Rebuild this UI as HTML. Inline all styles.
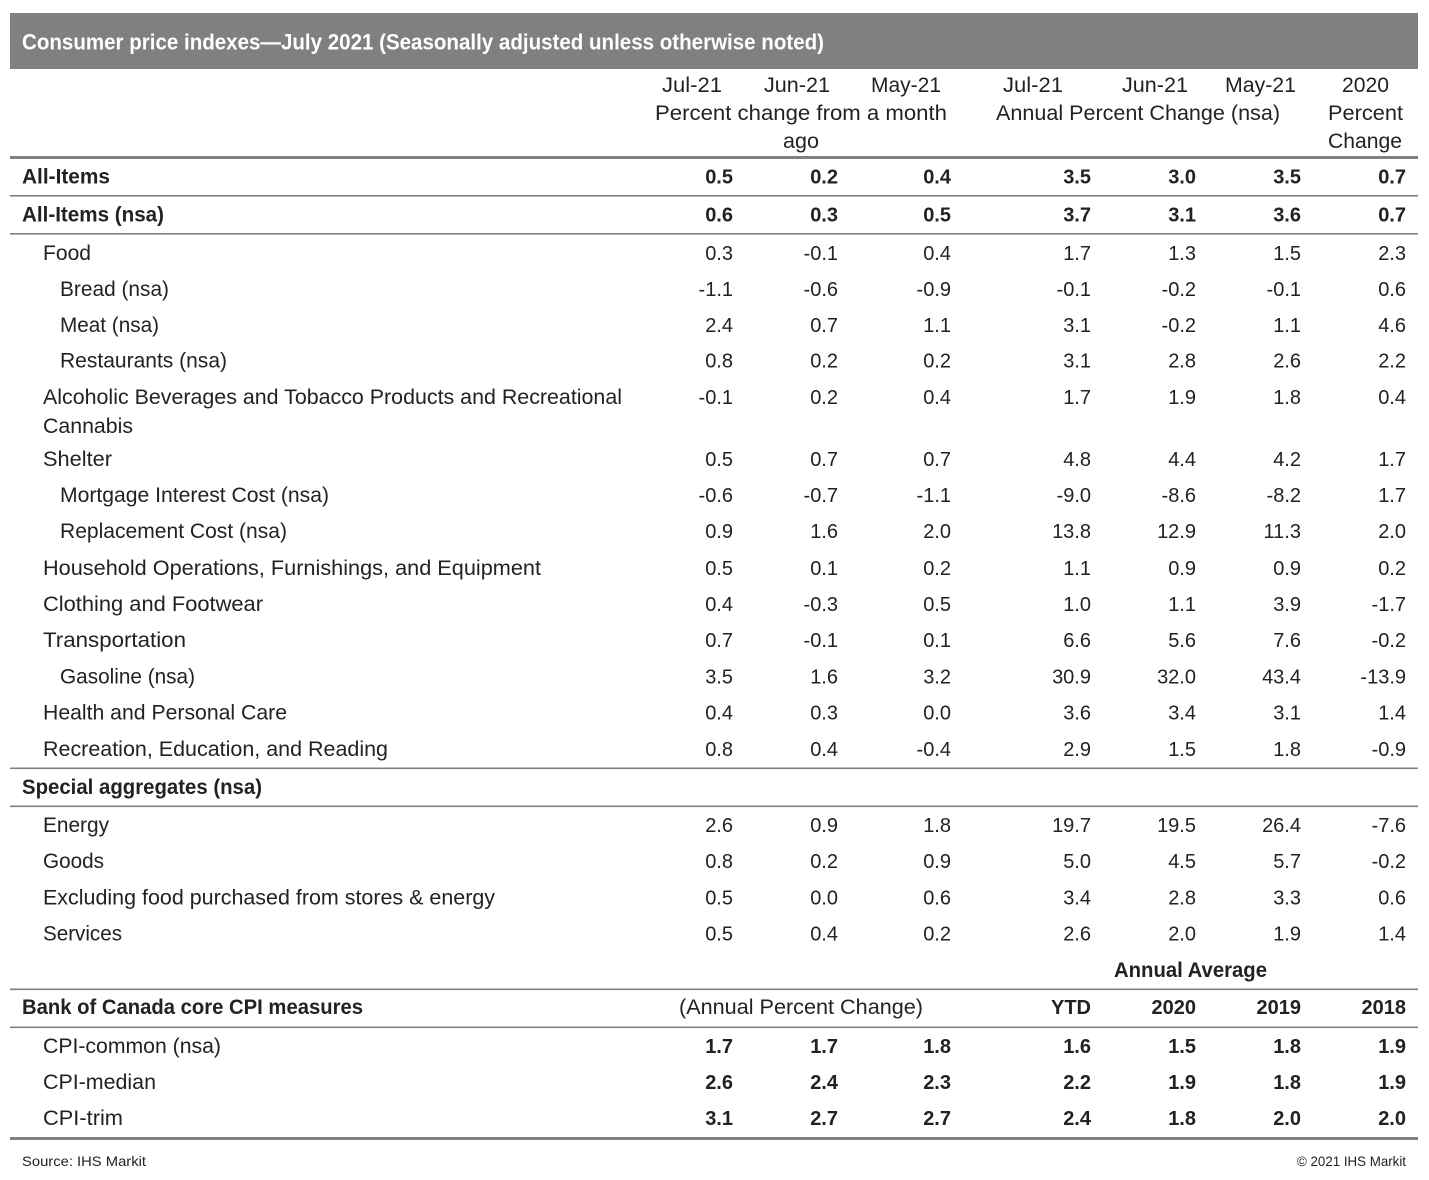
<!DOCTYPE html>
<html>
<head>
<meta charset="utf-8">
<style>
  html,body{margin:0;padding:0;background:#fff;}
  svg{display:block;}
  text{font-family:"Liberation Sans",Arial,sans-serif;fill:#222;}
  .lb{font-size:21px;}
  .b{font-weight:bold;}
  .n{font-size:20px;text-anchor:end;}
  .h{font-size:21px;}
</style>
</head>
<body>
<svg width="1429" height="1180" viewBox="0 0 1429 1180" xmlns="http://www.w3.org/2000/svg">
  <rect x="0" y="0" width="1429" height="1180" fill="#fff"/>
  <!-- Title bar -->
  <rect x="10" y="13" width="1408" height="56" fill="#808080"/>
  <text x="22" y="49.5" class="b" style="font-size:22px;fill:#fff" textLength="802" lengthAdjust="spacingAndGlyphs">Consumer price indexes—July 2021 (Seasonally adjusted unless otherwise noted)</text>

  <!-- Header -->
  <text x="662" y="92" class="h" textLength="60" lengthAdjust="spacingAndGlyphs">Jul-21</text>
  <text x="764" y="92" class="h" textLength="66" lengthAdjust="spacingAndGlyphs">Jun-21</text>
  <text x="871" y="92" class="h" textLength="70" lengthAdjust="spacingAndGlyphs">May-21</text>
  <text x="655" y="120" class="h" textLength="292" lengthAdjust="spacingAndGlyphs">Percent change from a month</text>
  <text x="783" y="148" class="h" textLength="36" lengthAdjust="spacingAndGlyphs">ago</text>
  <text x="1003" y="92" class="h" textLength="60" lengthAdjust="spacingAndGlyphs">Jul-21</text>
  <text x="1122" y="92" class="h" textLength="66" lengthAdjust="spacingAndGlyphs">Jun-21</text>
  <text x="1225" y="92" class="h" textLength="71" lengthAdjust="spacingAndGlyphs">May-21</text>
  <text x="996" y="120" class="h" textLength="284" lengthAdjust="spacingAndGlyphs">Annual Percent Change (nsa)</text>
  <text x="1342" y="92" class="h" textLength="47" lengthAdjust="spacingAndGlyphs">2020</text>
  <text x="1328" y="120" class="h" textLength="75" lengthAdjust="spacingAndGlyphs">Percent</text>
  <text x="1328" y="148" class="h" textLength="74" lengthAdjust="spacingAndGlyphs">Change</text>

  <!-- Lines -->
  <rect x="10" y="156" width="1408" height="3" fill="#808080"/>
  <rect x="10" y="195" width="1408" height="1.6" fill="#808080"/>
  <rect x="10" y="233" width="1408" height="1.6" fill="#808080"/>
  <rect x="10" y="767.5" width="1408" height="1.6" fill="#808080"/>
  <rect x="10" y="805.5" width="1408" height="1.6" fill="#808080"/>
  <rect x="10" y="988.5" width="1408" height="1.6" fill="#808080"/>
  <rect x="10" y="1026.5" width="1408" height="1.6" fill="#808080"/>
  <rect x="10" y="1137" width="1408" height="3" fill="#808080"/>

  <!-- Labels -->
  <text x="22" y="183.5" class="lb b" textLength="88" lengthAdjust="spacingAndGlyphs">All-Items</text>
  <text x="22" y="221.5" class="lb b" textLength="142" lengthAdjust="spacingAndGlyphs">All-Items (nsa)</text>
  <text x="43" y="260" class="lb" textLength="48" lengthAdjust="spacingAndGlyphs">Food</text>
  <text x="60" y="296" class="lb" textLength="109" lengthAdjust="spacingAndGlyphs">Bread (nsa)</text>
  <text x="60" y="332" class="lb" textLength="99" lengthAdjust="spacingAndGlyphs">Meat (nsa)</text>
  <text x="60" y="367.5" class="lb" textLength="167" lengthAdjust="spacingAndGlyphs">Restaurants (nsa)</text>
  <text x="43" y="404" class="lb" textLength="579" lengthAdjust="spacingAndGlyphs">Alcoholic Beverages and Tobacco Products and Recreational</text>
  <text x="43" y="433" class="lb" textLength="90" lengthAdjust="spacingAndGlyphs">Cannabis</text>
  <text x="43" y="466" class="lb" textLength="69" lengthAdjust="spacingAndGlyphs">Shelter</text>
  <text x="60" y="502" class="lb" textLength="269" lengthAdjust="spacingAndGlyphs">Mortgage Interest Cost (nsa)</text>
  <text x="60" y="538" class="lb" textLength="227" lengthAdjust="spacingAndGlyphs">Replacement Cost (nsa)</text>
  <text x="43" y="575" class="lb" textLength="498" lengthAdjust="spacingAndGlyphs">Household Operations, Furnishings, and Equipment</text>
  <text x="43" y="611" class="lb" textLength="220" lengthAdjust="spacingAndGlyphs">Clothing and Footwear</text>
  <text x="43" y="647" class="lb" textLength="143" lengthAdjust="spacingAndGlyphs">Transportation</text>
  <text x="60" y="683.5" class="lb" textLength="135" lengthAdjust="spacingAndGlyphs">Gasoline (nsa)</text>
  <text x="43" y="719.5" class="lb" textLength="244" lengthAdjust="spacingAndGlyphs">Health and Personal Care</text>
  <text x="43" y="756" class="lb" textLength="345" lengthAdjust="spacingAndGlyphs">Recreation, Education, and Reading</text>
  <text x="22" y="794" class="lb b" textLength="240" lengthAdjust="spacingAndGlyphs">Special aggregates (nsa)</text>
  <text x="43" y="832" class="lb" textLength="66" lengthAdjust="spacingAndGlyphs">Energy</text>
  <text x="43" y="868" class="lb" textLength="61" lengthAdjust="spacingAndGlyphs">Goods</text>
  <text x="43" y="904.5" class="lb" textLength="452" lengthAdjust="spacingAndGlyphs">Excluding food purchased from stores &amp; energy</text>
  <text x="43" y="940.5" class="lb" textLength="79" lengthAdjust="spacingAndGlyphs">Services</text>
  <text x="1114" y="977" class="lb b" textLength="153" lengthAdjust="spacingAndGlyphs">Annual Average</text>
  <text x="22" y="1014" class="lb b" textLength="341" lengthAdjust="spacingAndGlyphs">Bank of Canada core CPI measures</text>
  <text x="679" y="1014" class="lb" textLength="244" lengthAdjust="spacingAndGlyphs">(Annual Percent Change)</text>
  <text x="1091" y="1014" class="n b">YTD</text>
  <text x="1196" y="1014" class="n b">2020</text>
  <text x="1301" y="1014" class="n b">2019</text>
  <text x="1406" y="1014" class="n b">2018</text>
  <text x="43" y="1053" class="lb" textLength="178" lengthAdjust="spacingAndGlyphs">CPI-common (nsa)</text>
  <text x="43" y="1089" class="lb" textLength="113" lengthAdjust="spacingAndGlyphs">CPI-median</text>
  <text x="43" y="1125" class="lb" textLength="80" lengthAdjust="spacingAndGlyphs">CPI-trim</text>

  <!-- Numbers -->
  <g>
    <text x="733" y="183.5" class="n b">0.5</text><text x="838" y="183.5" class="n b">0.2</text><text x="951" y="183.5" class="n b">0.4</text><text x="1091" y="183.5" class="n b">3.5</text><text x="1196" y="183.5" class="n b">3.0</text><text x="1301" y="183.5" class="n b">3.5</text><text x="1406" y="183.5" class="n b">0.7</text>
    <text x="733" y="221.5" class="n b">0.6</text><text x="838" y="221.5" class="n b">0.3</text><text x="951" y="221.5" class="n b">0.5</text><text x="1091" y="221.5" class="n b">3.7</text><text x="1196" y="221.5" class="n b">3.1</text><text x="1301" y="221.5" class="n b">3.6</text><text x="1406" y="221.5" class="n b">0.7</text>
  </g>
  <g>
    <text x="733" y="260" class="n">0.3</text><text x="838" y="260" class="n">-0.1</text><text x="951" y="260" class="n">0.4</text><text x="1091" y="260" class="n">1.7</text><text x="1196" y="260" class="n">1.3</text><text x="1301" y="260" class="n">1.5</text><text x="1406" y="260" class="n">2.3</text>
    <text x="733" y="296" class="n">-1.1</text><text x="838" y="296" class="n">-0.6</text><text x="951" y="296" class="n">-0.9</text><text x="1091" y="296" class="n">-0.1</text><text x="1196" y="296" class="n">-0.2</text><text x="1301" y="296" class="n">-0.1</text><text x="1406" y="296" class="n">0.6</text>
    <text x="733" y="332" class="n">2.4</text><text x="838" y="332" class="n">0.7</text><text x="951" y="332" class="n">1.1</text><text x="1091" y="332" class="n">3.1</text><text x="1196" y="332" class="n">-0.2</text><text x="1301" y="332" class="n">1.1</text><text x="1406" y="332" class="n">4.6</text>
    <text x="733" y="367.5" class="n">0.8</text><text x="838" y="367.5" class="n">0.2</text><text x="951" y="367.5" class="n">0.2</text><text x="1091" y="367.5" class="n">3.1</text><text x="1196" y="367.5" class="n">2.8</text><text x="1301" y="367.5" class="n">2.6</text><text x="1406" y="367.5" class="n">2.2</text>
    <text x="733" y="404" class="n">-0.1</text><text x="838" y="404" class="n">0.2</text><text x="951" y="404" class="n">0.4</text><text x="1091" y="404" class="n">1.7</text><text x="1196" y="404" class="n">1.9</text><text x="1301" y="404" class="n">1.8</text><text x="1406" y="404" class="n">0.4</text>
    <text x="733" y="466" class="n">0.5</text><text x="838" y="466" class="n">0.7</text><text x="951" y="466" class="n">0.7</text><text x="1091" y="466" class="n">4.8</text><text x="1196" y="466" class="n">4.4</text><text x="1301" y="466" class="n">4.2</text><text x="1406" y="466" class="n">1.7</text>
    <text x="733" y="502" class="n">-0.6</text><text x="838" y="502" class="n">-0.7</text><text x="951" y="502" class="n">-1.1</text><text x="1091" y="502" class="n">-9.0</text><text x="1196" y="502" class="n">-8.6</text><text x="1301" y="502" class="n">-8.2</text><text x="1406" y="502" class="n">1.7</text>
    <text x="733" y="538" class="n">0.9</text><text x="838" y="538" class="n">1.6</text><text x="951" y="538" class="n">2.0</text><text x="1091" y="538" class="n">13.8</text><text x="1196" y="538" class="n">12.9</text><text x="1301" y="538" class="n">11.3</text><text x="1406" y="538" class="n">2.0</text>
    <text x="733" y="575" class="n">0.5</text><text x="838" y="575" class="n">0.1</text><text x="951" y="575" class="n">0.2</text><text x="1091" y="575" class="n">1.1</text><text x="1196" y="575" class="n">0.9</text><text x="1301" y="575" class="n">0.9</text><text x="1406" y="575" class="n">0.2</text>
    <text x="733" y="611" class="n">0.4</text><text x="838" y="611" class="n">-0.3</text><text x="951" y="611" class="n">0.5</text><text x="1091" y="611" class="n">1.0</text><text x="1196" y="611" class="n">1.1</text><text x="1301" y="611" class="n">3.9</text><text x="1406" y="611" class="n">-1.7</text>
    <text x="733" y="647" class="n">0.7</text><text x="838" y="647" class="n">-0.1</text><text x="951" y="647" class="n">0.1</text><text x="1091" y="647" class="n">6.6</text><text x="1196" y="647" class="n">5.6</text><text x="1301" y="647" class="n">7.6</text><text x="1406" y="647" class="n">-0.2</text>
    <text x="733" y="683.5" class="n">3.5</text><text x="838" y="683.5" class="n">1.6</text><text x="951" y="683.5" class="n">3.2</text><text x="1091" y="683.5" class="n">30.9</text><text x="1196" y="683.5" class="n">32.0</text><text x="1301" y="683.5" class="n">43.4</text><text x="1406" y="683.5" class="n">-13.9</text>
    <text x="733" y="719.5" class="n">0.4</text><text x="838" y="719.5" class="n">0.3</text><text x="951" y="719.5" class="n">0.0</text><text x="1091" y="719.5" class="n">3.6</text><text x="1196" y="719.5" class="n">3.4</text><text x="1301" y="719.5" class="n">3.1</text><text x="1406" y="719.5" class="n">1.4</text>
    <text x="733" y="756" class="n">0.8</text><text x="838" y="756" class="n">0.4</text><text x="951" y="756" class="n">-0.4</text><text x="1091" y="756" class="n">2.9</text><text x="1196" y="756" class="n">1.5</text><text x="1301" y="756" class="n">1.8</text><text x="1406" y="756" class="n">-0.9</text>
    <text x="733" y="832" class="n">2.6</text><text x="838" y="832" class="n">0.9</text><text x="951" y="832" class="n">1.8</text><text x="1091" y="832" class="n">19.7</text><text x="1196" y="832" class="n">19.5</text><text x="1301" y="832" class="n">26.4</text><text x="1406" y="832" class="n">-7.6</text>
    <text x="733" y="868" class="n">0.8</text><text x="838" y="868" class="n">0.2</text><text x="951" y="868" class="n">0.9</text><text x="1091" y="868" class="n">5.0</text><text x="1196" y="868" class="n">4.5</text><text x="1301" y="868" class="n">5.7</text><text x="1406" y="868" class="n">-0.2</text>
    <text x="733" y="904.5" class="n">0.5</text><text x="838" y="904.5" class="n">0.0</text><text x="951" y="904.5" class="n">0.6</text><text x="1091" y="904.5" class="n">3.4</text><text x="1196" y="904.5" class="n">2.8</text><text x="1301" y="904.5" class="n">3.3</text><text x="1406" y="904.5" class="n">0.6</text>
    <text x="733" y="940.5" class="n">0.5</text><text x="838" y="940.5" class="n">0.4</text><text x="951" y="940.5" class="n">0.2</text><text x="1091" y="940.5" class="n">2.6</text><text x="1196" y="940.5" class="n">2.0</text><text x="1301" y="940.5" class="n">1.9</text><text x="1406" y="940.5" class="n">1.4</text>
  </g>
  <g>
    <text x="733" y="1053" class="n b">1.7</text><text x="838" y="1053" class="n b">1.7</text><text x="951" y="1053" class="n b">1.8</text><text x="1091" y="1053" class="n b">1.6</text><text x="1196" y="1053" class="n b">1.5</text><text x="1301" y="1053" class="n b">1.8</text><text x="1406" y="1053" class="n b">1.9</text>
    <text x="733" y="1089" class="n b">2.6</text><text x="838" y="1089" class="n b">2.4</text><text x="951" y="1089" class="n b">2.3</text><text x="1091" y="1089" class="n b">2.2</text><text x="1196" y="1089" class="n b">1.9</text><text x="1301" y="1089" class="n b">1.8</text><text x="1406" y="1089" class="n b">1.9</text>
    <text x="733" y="1125" class="n b">3.1</text><text x="838" y="1125" class="n b">2.7</text><text x="951" y="1125" class="n b">2.7</text><text x="1091" y="1125" class="n b">2.4</text><text x="1196" y="1125" class="n b">1.8</text><text x="1301" y="1125" class="n b">2.0</text><text x="1406" y="1125" class="n b">2.0</text>
  </g>

  <!-- Footer -->
  <text x="22" y="1166" style="font-size:14px" textLength="124" lengthAdjust="spacingAndGlyphs">Source: IHS Markit</text>
  <text x="1297" y="1166" style="font-size:14px" textLength="109" lengthAdjust="spacingAndGlyphs">© 2021 IHS Markit</text>
</svg>
</body>
</html>
